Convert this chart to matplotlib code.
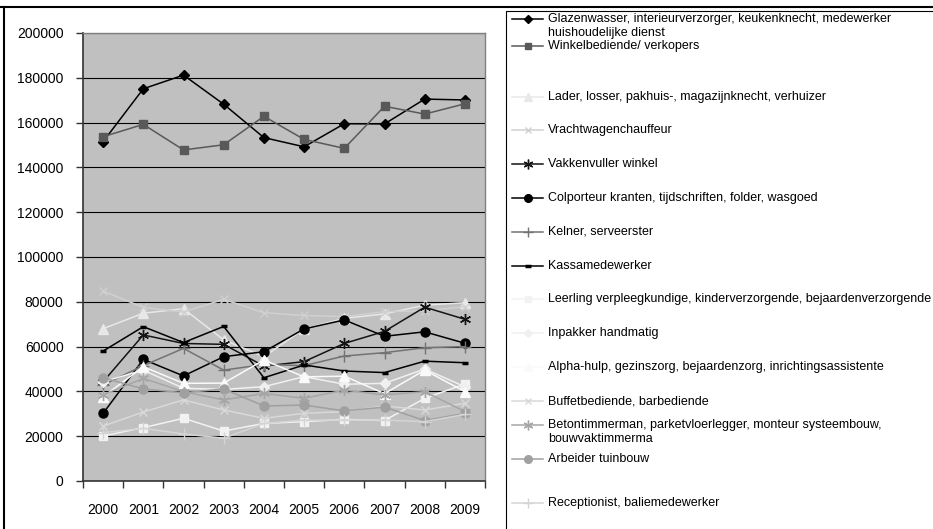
import matplotlib
matplotlib.use("Agg")
import matplotlib.pyplot as plt
from matplotlib.patches import Rectangle
from matplotlib.lines import Line2D

plt.rcParams['font.family'] = ['Liberation Sans', 'DejaVu Sans']

years = ['2000', '2001', '2002', '2003', '2004', '2005', '2006', '2007', '2008', '2009']

labels = [
    'Glazenwasser, interieurverzorger, keukenknecht, medewerker\nhuishoudelijke dienst',
    'Winkelbediende/ verkopers',
    'Lader, losser, pakhuis-, magazijnknecht, verhuizer',
    'Vrachtwagenchauffeur',
    'Vakkenvuller winkel',
    'Colporteur kranten, tijdschriften, folder, wasgoed',
    'Kelner, serveerster',
    'Kassamedewerker',
    'Leerling verpleegkundige, kinderverzorgende, bejaardenverzorgende',
    'Inpakker handmatig',
    'Alpha-hulp, gezinszorg, bejaardenzorg, inrichtingsassistente',
    'Buffetbediende, barbediende',
    'Betontimmerman, parketvloerlegger, monteur systeembouw,\nbouwvaktimmerma',
    'Arbeider tuinbouw',
    'Receptionist, baliemedewerker',
]

glazenwasser = [151500, 175100, 181200, 168200, 153300, 149200, 159500, 159400, 170500, 170100]
winkelbediende = [153700, 159200, 147800, 150100, 162800, 152500, 148500, 167300, 163800, 168400]
lader = [68000, 74900, 76900, 63000, 55500, 67900, 72600, 74600, 78500, 79600]
vracht = [84800, 77500, 75400, 81100, 75100, 73900, 73400, 75600, 76000, 77800]
vakkenvuller = [44300, 65200, 61400, 61000, 51300, 53300, 61400, 66800, 77600, 72200]
colporteur = [30200, 54300, 46900, 55500, 57700, 67900, 71900, 64600, 66600, 61500]
kelner = [42900, 51500, 59200, 49500, 52000, 51500, 55800, 57300, 59500, 60000]
kassa = [58000, 68900, 61800, 69000, 46100, 51800, 49100, 48400, 53500, 52800]
leerling = [20100, 23800, 28000, 22300, 25700, 26500, 27500, 27000, 36900, 43300]
inpakker = [44300, 49500, 41400, 40900, 42100, 46600, 43200, 43600, 50000, 42100]
alpha = [37600, 51000, 43600, 43700, 54000, 46500, 46800, 39000, 49500, 39900]
buffet = [24500, 30800, 36200, 31700, 28000, 30200, 31000, 33500, 31700, 34700]
beton = [38500, 45800, 39900, 36200, 39100, 36900, 40600, 38400, 39900, 31000]
arbeider = [46100, 41100, 39400, 41100, 33500, 33900, 31300, 33000, 27000, 30200]
receptionist = [21600, 23500, 21000, 19100, 25700, 27200, 27200, 27200, 26500, 29700]

series = [glazenwasser, winkelbediende, lader, vracht, vakkenvuller, colporteur,
          kelner, kassa, leerling, inpakker, alpha, buffet, beton, arbeider, receptionist]

asterisk = (6, 2, 0)
styles = [
    ('#000000', 'D', 5.5),
    ('#595959', 's', 6),
    ('#e8e8e8', '^', 6.5),
    ('#d0d0d0', 'x', 6),
    ('#141414', asterisk, 8),
    ('#000000', 'o', 6.5),
    ('#737373', '+', 8),
    ('#000000', '_', 5),
    ('#f2f2f2', 's', 6),
    ('#f0f0f0', 'D', 5.5),
    ('#fafafa', '^', 6.5),
    ('#d9d9d9', 'x', 6),
    ('#a6a6a6', asterisk, 8),
    ('#a0a0a0', 'o', 6.5),
    ('#d4d4d4', '+', 8),
]

# legend: y of first text line for each entry (pixels from top)
legend_rows = [19, 46, 97, 130, 164, 198, 232, 266, 299, 333, 367, 401, 425, 459, 503]
line_step = 14

W, H = 933, 529
fig = plt.figure(figsize=(W / 100, H / 100), dpi=100)

ax = fig.add_axes([83 / W, 1 - 481 / H, 402 / W, 448 / H])
ax.set_facecolor('#c0c0c0')

x = list(range(len(years)))
for vals, (c, m, ms) in zip(series, styles):
    mew = 2.5 if m == '_' else 1.0
    ax.plot(x, vals, color=c, lw=1.1, marker=m, ms=ms, mec=c, mfc=c, mew=mew)

ax.set_xlim(-0.5, len(years) - 0.5)
ax.set_ylim(0, 200000)
ax.set_yticks(range(0, 200001, 20000))
ax.set_yticklabels([str(v) for v in range(0, 200001, 20000)], fontsize=10)
ax.yaxis.grid(True, color='black', lw=0.8)
ax.set_axisbelow(True)

ax.set_xticks([i - 0.5 for i in range(len(years) + 1)])
ax.set_xticklabels([])
ax.set_xticks(x, minor=True)
ax.set_xticklabels(years, minor=True, fontsize=10)
ax.tick_params(axis='x', which='major', direction='out', length=5, width=1, color='#333333')
ax.tick_params(axis='x', which='minor', length=0, pad=16)
ax.tick_params(axis='y', direction='out', length=5, width=1, color='#333333', pad=9)

for side in ['top', 'right']:
    ax.spines[side].set_color('#808080')
    ax.spines[side].set_linewidth(1.0)
for side in ['left', 'bottom']:
    ax.spines[side].set_color('#333333')
    ax.spines[side].set_linewidth(1.2)

# outer chart border and legend box
fig.add_artist(Line2D([0, 1], [1 - 7 / H, 1 - 7 / H], color='black', lw=1.5))
fig.add_artist(Line2D([4 / W, 4 / W], [0, 1 - 7 / H], color='black', lw=1.5))
fig.add_artist(Rectangle((506 / W, -0.1), 1, 1.1 - 11 / H, fill=False,
                         edgecolor='black', lw=0.8, transform=fig.transFigure))

lg = fig.add_axes([0, 0, 1, 1])
lg.set_xlim(0, W)
lg.set_ylim(H, 0)
lg.axis('off')
for lab, y, (c, m, ms) in zip(labels, legend_rows, styles):
    mew = 2.5 if m == '_' else 1.0
    lg.plot([512, 543], [y, y], color=c, lw=1.1)
    lg.plot([527.5], [y], color=c, marker=m, ms=ms - 1, mec=c, mfc=c, mew=mew)
    for k, part in enumerate(lab.split('\n')):
        lg.text(548, y + k * line_step, part, fontsize=9, va='center', ha='left')

fig.savefig('out.png', dpi=100)
